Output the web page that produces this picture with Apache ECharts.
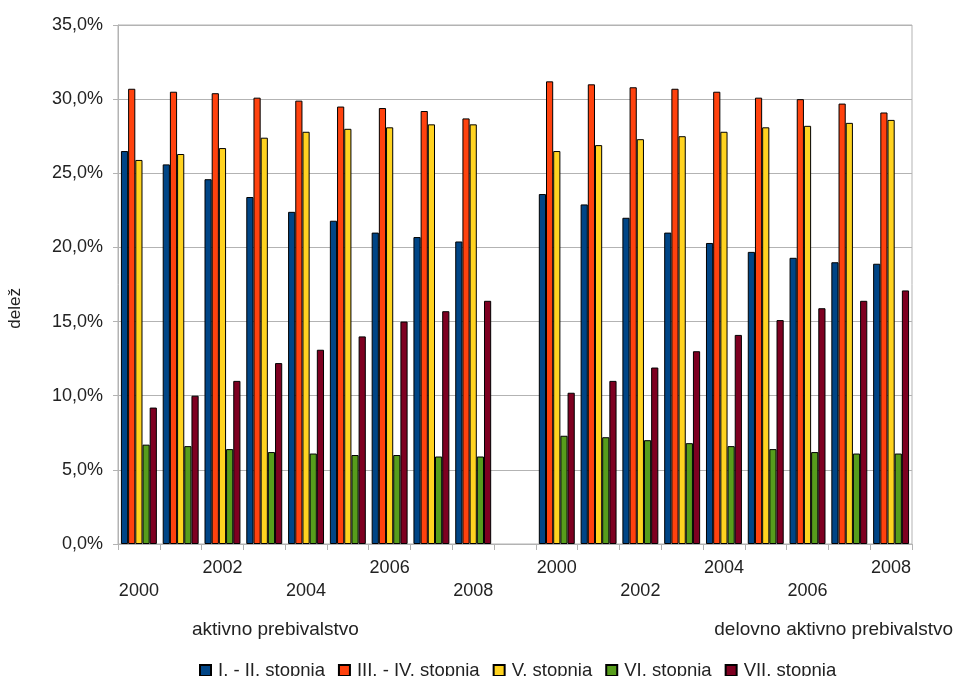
<!DOCTYPE html>
<html>
<head>
<meta charset="utf-8">
<title>delež po stopnjah izobrazbe</title>
<script src="https://cdn.jsdelivr.net/npm/echarts@6/dist/echarts.min.js"></script>
<style>
  html, body { margin: 0; padding: 0; background: #fff; }
  #chart { width: 957px; height: 676px; }
</style>
</head>
<body>
<div id="chart"></div>
<script>
// leta (ista za obe skupini)
const years = ['2000', '2001', '2002', '2003', '2004', '2005', '2006', '2007', '2008'];
const groupNames = ['aktivno prebivalstvo', 'delovno aktivno prebivalstvo'];
const seriesNames = ['I. - II. stopnja', 'III. - IV. stopnja', 'V. stopnja', 'VI. stopnja', 'VII. stopnja'];
const colors = ['#004586', '#ff420e', '#ffd320', '#579d1c', '#7e0021'];
const yTicks = [0, 5, 10, 15, 20, 25, 30, 35];

// aktivno prebivalstvo (%)
const aktivnoI_II = [26.5, 25.6, 24.6, 23.4, 22.4, 21.8, 21.0, 20.7, 20.4];
const aktivnoIII_IV = [30.7, 30.5, 30.4, 30.1, 29.9, 29.5, 29.4, 29.2, 28.7];
const aktivnoV = [25.9, 26.3, 26.7, 27.4, 27.8, 28.0, 28.1, 28.3, 28.3];
const aktivnoVI = [6.7, 6.6, 6.4, 6.2, 6.1, 6.0, 6.0, 5.9, 5.9];
const aktivnoVII = [9.2, 10.0, 11.0, 12.2, 13.1, 14.0, 15.0, 15.7, 16.4];

// delovno aktivno prebivalstvo (%)
const delovnoI_II = [23.6, 22.9, 22.0, 21.0, 20.3, 19.7, 19.3, 19.0, 18.9];
const delovnoIII_IV = [31.2, 31.0, 30.8, 30.7, 30.5, 30.1, 30.0, 29.7, 29.1];
const delovnoV = [26.5, 26.9, 27.3, 27.5, 27.8, 28.1, 28.2, 28.4, 28.6];
const delovnoVI = [7.3, 7.2, 7.0, 6.8, 6.6, 6.4, 6.2, 6.1, 6.1];
const delovnoVII = [10.2, 11.0, 11.9, 13.0, 14.1, 15.1, 15.9, 16.4, 17.1];

const aktivno = [aktivnoI_II, aktivnoIII_IV, aktivnoV, aktivnoVI, aktivnoVII];
const delovno = [delovnoI_II, delovnoIII_IV, delovnoV, delovnoVI, delovnoVII];

// prazna kategorija med skupinama
const categories = years.concat([''], years);

const font = 'Liberation Sans, Arial, sans-serif';
const textColor = '#222';
const lineColor = '#b3b3b3';

const chart = echarts.init(document.getElementById('chart'));

chart.setOption({
  backgroundColor: '#fff',
  animation: false,
  textStyle: { fontFamily: font },
  grid: {
    left: 118,
    right: 45,
    top: 25,
    bottom: 132,
    show: true,
    borderColor: lineColor,
    borderWidth: 1,
  },
  legend: {
    data: seriesNames,
    left: 194,
    top: 656,
    icon: 'rect',
    itemWidth: 11,
    itemHeight: 11,
    itemGap: 13,
    textStyle: { fontSize: 18.5, color: textColor, fontFamily: font, padding: [0, 0, 0, 2] },
  },
  xAxis: {
    type: 'category',
    data: categories,
    axisLine: { lineStyle: { color: lineColor } },
    axisTick: { show: true, interval: 0, length: 6, lineStyle: { color: lineColor } },
    axisLabel: {
      interval: 1,
      margin: 14,
      color: textColor,
      fontSize: 18,
      fontFamily: font,
      // zamaknjene oznake: izmenično zgoraj in spodaj
      formatter: (value, index) => ((index / 2) % 2 === 1 ? '{up|' + value + '}' : '{down|' + value + '}'),
      rich: {
        up: { fontSize: 18, lineHeight: 20, color: textColor, fontFamily: font },
        down: { fontSize: 18, lineHeight: 20, color: textColor, fontFamily: font, padding: [46, 0, 0, 0] },
      },
    },
    splitLine: { show: false },
  },
  yAxis: {
    type: 'value',
    min: yTicks[0],
    max: yTicks[yTicks.length - 1],
    interval: yTicks[1] - yTicks[0],
    axisLine: { show: true, lineStyle: { color: lineColor } },
    axisTick: { show: true, length: 5, lineStyle: { color: lineColor } },
    axisLabel: {
      margin: 15,
      color: textColor,
      fontSize: 18,
      fontFamily: font,
      formatter: (v) => v.toFixed(1).replace('.', ',') + '%',
    },
    splitLine: { lineStyle: { color: lineColor } },
  },
  series: seriesNames.map((name, i) => ({
    name: name,
    type: 'bar',
    data: aktivno[i].concat(['-'], delovno[i]),
    barGap: '0%',
    barCategoryGap: '14%',
    itemStyle: { color: colors[i], borderColor: '#000', borderWidth: 1 },
  })),
  graphic: [
    {
      type: 'text',
      left: 16 - 9,
      top: 310 - 22,
      rotation: Math.PI / 2,
      style: { text: 'delež', fontSize: 17, fill: textColor, fontFamily: font },
    },
    {
      type: 'text',
      left: 192,
      top: 620,
      style: { text: groupNames[0], fontSize: 19, fill: textColor, fontFamily: font },
    },
    {
      type: 'text',
      right: 4,
      top: 620,
      style: { text: groupNames[1], fontSize: 19, fill: textColor, fontFamily: font },
    },
  ],
});
</script>
</body>
</html>
